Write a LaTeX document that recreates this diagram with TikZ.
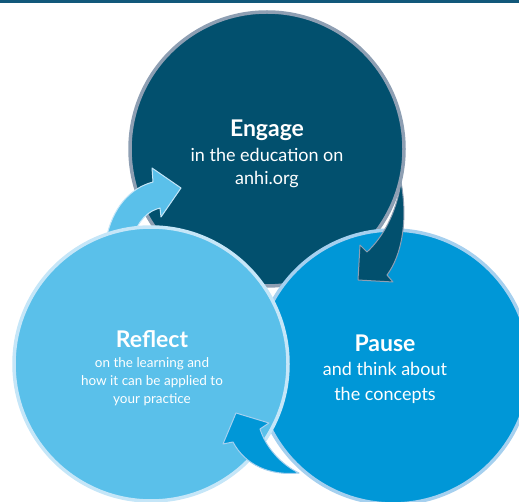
\documentclass[tikz,border=0pt]{standalone}
\usepackage{fontspec}
\setmainfont{Lato}
\usepackage{tikz}
\usetikzlibrary{positioning}

\definecolor{topline}{HTML}{12587A}
\definecolor{engagefill}{HTML}{02506E}
\definecolor{engageedge}{HTML}{8E9FB3}
\definecolor{pausefill}{HTML}{0097D7}
\definecolor{pauseedge}{HTML}{A5D0EF}
\definecolor{reflectfill}{HTML}{5AC0EA}
\definecolor{reflectedge}{HTML}{C5E6F8}

\begin{document}
\begin{tikzpicture}[
		x = 1pt, y = -1pt,
		bubble/.style = {circle, inner sep=0pt, minimum size=274pt, line width=3.5pt},
		turnarrow/.style = {line width=1pt, line join=round},
		title/.style = {text=white, font=\bfseries\fontsize{23}{23}\selectfont, inner sep=0pt, anchor=base},
		body/.style = {text=white, align=center, inner sep=0pt, anchor=base}
	]

	\useasboundingbox (0,0) rectangle (519,502);
	\clip (0,0) rectangle (519,502);

	\fill[topline] (0,0) rectangle (519,3);

	% back circle
	\node[bubble, fill=engagefill, draw=engageedge] (engage) at (267,149) {};

	% arrow into Engage, its foot hidden by Reflect
	\filldraw[turnarrow, fill=reflectfill, draw=reflectedge]
		(106,240) .. controls (112,208) and (130,188) .. (153,182)
		-- (152,168) -- (181,188) -- (161,217) -- (160,208)
		.. controls (148,211) and (138,220) .. (132,240) -- cycle;

	\node[bubble, fill=pausefill, draw=pauseedge] (pause) at (393,367) {};
	\node[bubble, fill=reflectfill, draw=reflectedge] (reflect) at (151,364) {};

	% arrow from Engage down to Pause
	\filldraw[turnarrow, fill=engagefill, draw=engageedge]
		(401,182) .. controls (408,220) and (402,255) .. (387,275)
		-- (393,282) -- (358,280) -- (360,245) -- (367,252)
		.. controls (382,238) and (396,215) .. (401,182) -- cycle;

	% arrow from Pause back to Reflect
	\filldraw[turnarrow, fill=pausefill, draw=pauseedge]
		(299,473) .. controls (270,476) and (245,465) .. (233,442)
		-- (223,444) -- (236,413) -- (269,423) -- (260,429)
		.. controls (266,448) and (282,465) .. (299,473) -- cycle;

	% texts (body nodes sit on the baseline of their last line)
	\node[title] (engagetitle) at (267,137) {Engage};
	\node[body, font=\fontsize{18}{23}\selectfont] (engagetext) at (267,185) {in the education on\\anhi.org};

	\node[title] (pausetitle) at (385,351) {Pause};
	\node[body, font=\fontsize{18}{24.5}\selectfont] (pausetext) at (385,400) {and think about\\the concepts};

	\node[title] (reflecttitle) at (152,347) {Reflect};
	\node[body, font=\fontsize{13.5}{18}\selectfont] (reflecttext) at (152,403) {on the learning and\\how it can be applied to\\your practice};

\end{tikzpicture}
\end{document}
